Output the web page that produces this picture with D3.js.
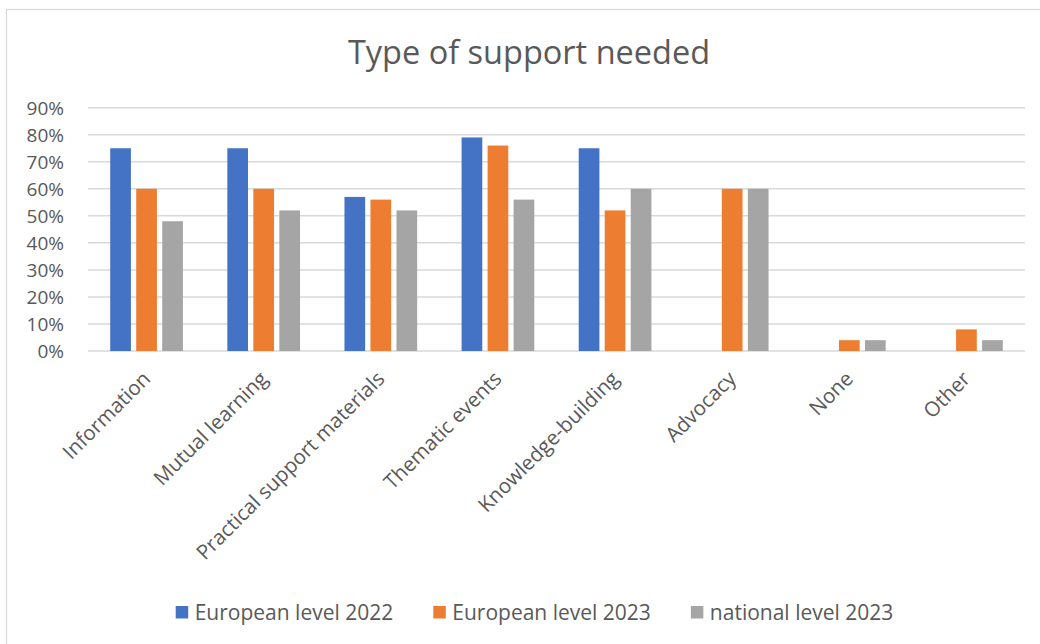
<!DOCTYPE html>
<html lang="en">
<head>
<meta charset="utf-8">
<title>Type of support needed</title>
<script src="https://cdnjs.cloudflare.com/ajax/libs/d3/7.8.5/d3.min.js"></script>
<style>
  body { margin: 0; background: #fff; }
  svg text { font-family: "Open Sans", "DejaVu Sans", sans-serif; fill: #595959; }
</style>
</head>
<body>
<div class="graph"></div>
<script>
// values (percent)
const categories = ['Information', 'Mutual learning', 'Practical support materials', 'Thematic events',
                    'Knowledge-building', 'Advocacy', 'None', 'Other'];
const seriesNames = ['European level 2022', 'European level 2023', 'national level 2023'];
const european2022 = [75, 75, 57, 79, 75, null, null, null];
const european2023 = [60, 60, 56, 76, 52, 60, 4, 8];
const national2023 = [48, 52, 52, 56, 60, 60, 4, 4];
const colors = ['#4472C4', '#ED7D31', '#A5A5A5'];
const yTicks = [0, 10, 20, 30, 40, 50, 60, 70, 80, 90];

const w = 1040, h = 644;
const plotLeft = 88, plotRight = 1025, plotTop = 107.7, plotBottom = 351;

const allSeries = [european2022, european2023, national2023];

const svg = d3.select('.graph').append('svg')
    .attr('width', w)
    .attr('height', h);

// chart frame
svg.append('rect')
    .attr('x', 6.5).attr('y', 9.5)
    .attr('width', 1100).attr('height', 700)
    .attr('fill', 'none')
    .attr('stroke', '#D9D9D9')
    .attr('stroke-width', 1.3);

svg.append('text')
    .attr('x', 529).attr('y', 64)
    .attr('text-anchor', 'middle')
    .style('font-size', '32.5px')
    .text('Type of support needed');

const y = d3.scaleLinear().domain([0, 90]).range([plotBottom, plotTop]);
const x0 = d3.scaleBand().domain(categories).range([plotLeft, plotRight]);
const x1 = d3.scaleBand().domain(seriesNames).range([0, x0.bandwidth()])
    .paddingInner(0.204).paddingOuter(0.854);

// gridlines
svg.append('g')
    .selectAll('line')
    .data(yTicks)
    .enter()
    .append('line')
    .attr('x1', plotLeft).attr('x2', plotRight)
    .attr('y1', d => y(d)).attr('y2', d => y(d))
    .attr('stroke', '#D9D9D9')
    .attr('stroke-width', 1.5);

// y axis labels
const yAxis = d3.axisLeft(y).tickValues(yTicks).tickFormat(d => d + '%').tickSize(0).tickPadding(0);
const yg = svg.append('g')
    .attr('transform', 'translate(64,0)')
    .call(yAxis);
yg.select('.domain').remove();
yg.selectAll('text')
    .style('font-size', '19px')
    .style('font-family', '"Open Sans", sans-serif')
    .attr('fill', '#595959')
    .attr('dy', '0.35em');

// bars
const groups = svg.append('g')
    .selectAll('g')
    .data(seriesNames)
    .enter()
    .append('g')
    .attr('fill', (d, i) => colors[i]);

groups.selectAll('rect')
    .data((s, i) => categories.map((c, j) => ({cat: c, series: s, value: allSeries[i][j]}))
        .filter(d => d.value !== null))
    .enter()
    .append('rect')
    .attr('x', d => x0(d.cat) + x1(d.series))
    .attr('y', d => y(d.value))
    .attr('width', x1.bandwidth())
    .attr('height', d => y(0) - y(d.value));

// category labels, rotated
svg.append('g')
    .selectAll('text')
    .data(categories)
    .enter()
    .append('text')
    .attr('transform', d => 'translate(' + (x0(d) + x0.bandwidth() / 2) + ',375) rotate(-45)')
    .attr('text-anchor', 'end')
    .attr('dy', '0.35em')
    .style('font-size', '20.5px')
    .text(d => d);

// legend
const legend = svg.append('g').attr('id', 'legend');
const items = legend.selectAll('g')
    .data(seriesNames)
    .enter()
    .append('g');
items.append('rect')
    .attr('width', 12.5).attr('height', 12.5)
    .attr('y', 606)
    .attr('fill', (d, i) => colors[i]);
items.append('text')
    .attr('x', 19)
    .attr('y', 619.5)
    .style('font-size', '21px')
    .text(d => d);

let pos = 0;
const offsets = [];
items.each(function () {
    offsets.push(pos);
    pos += this.getBBox().width + 40;
});
const total = pos - 40;
const start = 534.5 - total / 2;
items.attr('transform', (d, i) => 'translate(' + (start + offsets[i]) + ',0)');
</script>
</body>
</html>
